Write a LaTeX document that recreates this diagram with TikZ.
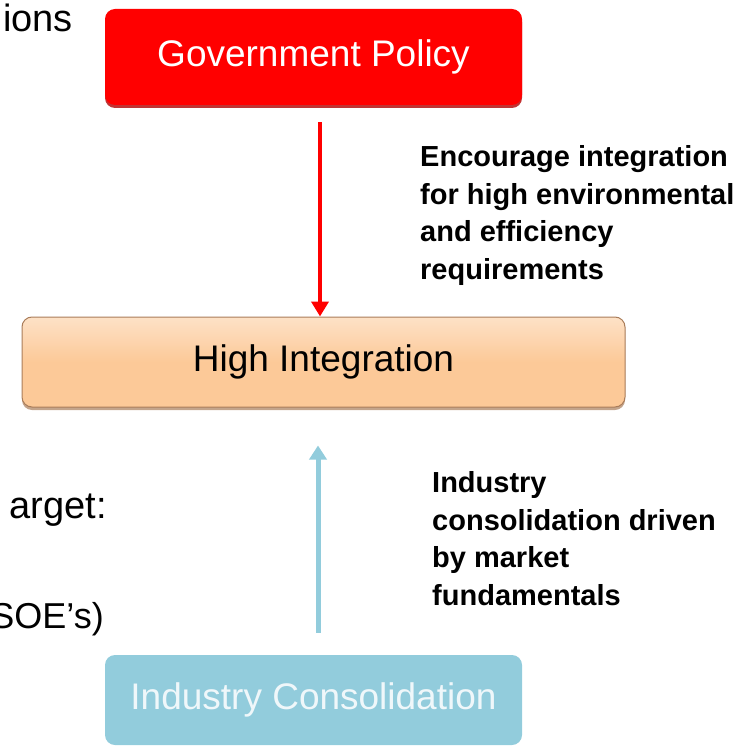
\documentclass[tikz,border=0pt]{standalone}
\usepackage{fontspec}
\setmainfont{Liberation Sans}
\usetikzlibrary{positioning,arrows.meta,shadows}

\definecolor{govred}{RGB}{255,0,0}
\definecolor{peach}{RGB}{252,201,152}
\definecolor{peachdark}{RGB}{170,125,90}
\definecolor{skyblue}{RGB}{146,204,220}

\begin{document}
\begin{tikzpicture}[x=1pt,y=-1pt]
        \tikzstyle{box}=[rectangle, rounded corners=10pt, inner sep=0pt, font=\fontsize{37}{44}\selectfont]
        \tikzstyle{note}=[align=left, anchor=north west, inner sep=0pt, font=\bfseries\fontsize{29}{37.8}\selectfont]
        \tikzstyle{slide}=[anchor=base east, inner sep=0pt, font=\fontsize{38}{46}\selectfont]

        \useasboundingbox (0,0) rectangle (754,746);

        \node (ions)  [slide] at (73,32)   {ions};
        \node (target)[slide] at (107,518) {arget:};
        \node (soes)  [slide, font=\fontsize{36}{44}\selectfont] at (104,628) {SOE’s)};

        \node (gov) [box, fill=govred, text=white, minimum width=417, minimum height=96,
                     drop shadow={shadow xshift=0pt, shadow yshift=-3pt, fill=red!70!black, opacity=0.8}]
                     at (313.5,57) {Government Policy};
        \node (hi)  [box, top color=peach!55!white, bottom color=peach, middle color=peach,
                     draw=peachdark, line width=1pt, minimum width=603, minimum height=90,
                     drop shadow={shadow xshift=0pt, shadow yshift=-3pt, fill=peachdark, opacity=0.7}]
                     at (323.5,362) {High Integration};
        \node (ind) [box, fill=skyblue, text=white!85!skyblue, minimum width=417, minimum height=90]
                     at (313.5,700) {Industry Consolidation};

        \draw[govred, line width=4pt, -{Triangle[width=17pt,length=15pt]}, shorten <=17pt]
            ([xshift=6.5pt]gov.south) -- ([xshift=6.5pt]gov.south |- hi.north);
        \draw[skyblue, line width=5pt, -{Triangle[width=17pt,length=14pt]}, shorten <=22pt, shorten >=38pt]
            ([xshift=4.5pt]ind.north) -- ([xshift=4.5pt]ind.north |- hi.south);

        \node (why)  [note] at (420,145) {Encourage integration\\for high environmental\\and efficiency\\requirements};
        \node (how)  [note] at (432,471) {Industry\\consolidation driven\\by market\\fundamentals};

    \end{tikzpicture}
\end{document}
